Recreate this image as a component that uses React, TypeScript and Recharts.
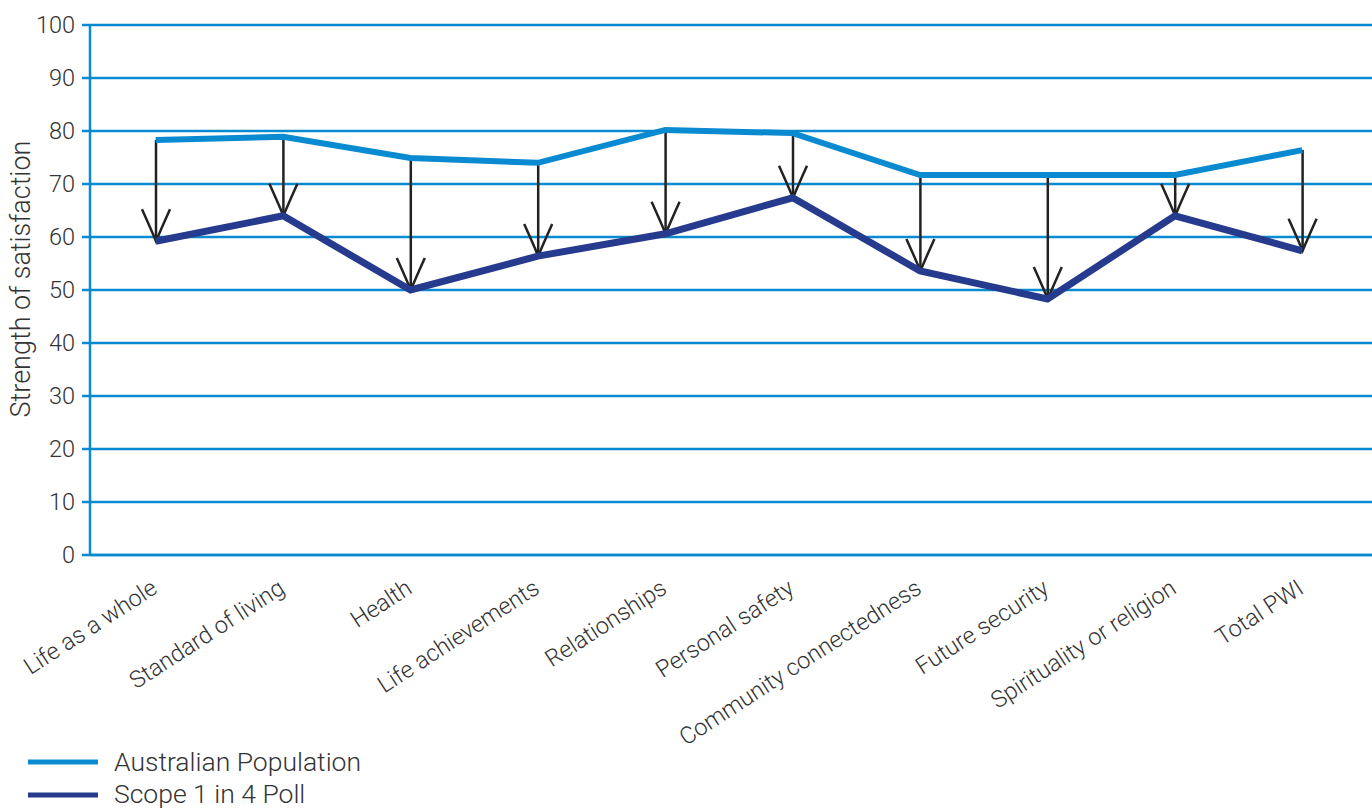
import React from 'react';
import { ComposedChart, Line, Bar, XAxis, YAxis, CartesianGrid } from 'recharts';

const categories = [
  'Life as a whole',
  'Standard of living',
  'Health',
  'Life achievements',
  'Relationships',
  'Personal safety',
  'Community connectedness',
  'Future security',
  'Spirituality or religion',
  'Total PWI',
];
const australianPopulation = [78.3, 78.9, 74.9, 74.0, 80.2, 79.6, 71.7, 71.7, 71.7, 76.4];
const scopePoll = [59.2, 64.0, 50.0, 56.4, 60.6, 67.4, 53.6, 48.3, 64.0, 57.4];
const yTicks = [0, 10, 20, 30, 40, 50, 60, 70, 80, 90, 100];

const AUS = '#0a8ad0';
const SCOPE = '#263b8e';
const GRID = '#0a8ad0';
const TEXT = '#333333';
const FONT = 'Roboto, "Liberation Sans", Arial, sans-serif';

const data = categories.map((c, i) => ({
  name: c,
  aus: australianPopulation[i],
  scope: scopePoll[i],
  range: [scopePoll[i], australianPopulation[i]],
}));

const ArrowShape = (props: any) => {
  const { x, y, width, height } = props;
  if (x == null || y == null) return null;
  const cx = x + width / 2;
  const top = y;
  const bottom = y + height;
  return (
    <g>
      <line x1={cx} y1={top} x2={cx} y2={bottom} stroke="#222" strokeWidth={2.5} />
      <path
        d={`M ${cx - 14} ${bottom - 32} Q ${cx - 5} ${bottom - 12} ${cx} ${bottom} Q ${cx + 5} ${bottom - 12} ${cx + 14} ${bottom - 32}`}
        fill="none"
        stroke="#222"
        strokeWidth={2.5}
      />
    </g>
  );
};

const CategoryTick = (props: any) => {
  const { x, y, payload } = props;
  return (
    <g transform={`translate(${x + 3},${y + 29})`}>
      <text
        x={0}
        y={0}
        transform="rotate(-33)"
        textAnchor="end"
        fill={TEXT}
        fontSize={23.5}
        fontWeight={300}
        fontFamily={FONT}
      >
        {payload.value}
      </text>
    </g>
  );
};

const ValueTick = (props: any) => {
  const { x, y, payload } = props;
  return (
    <text
      x={x - 5}
      y={y + 8}
      textAnchor="end"
      fill={TEXT}
      fontSize={23.5}
      fontWeight={300}
      fontFamily={FONT}
    >
      {payload.value}
    </text>
  );
};

export default function App() {
  return (
    <div style={{ position: 'absolute', left: 0, top: 0, width: 1372, height: 808, background: '#fff', overflow: 'hidden' }}>
      <ComposedChart
        width={1372}
        height={808}
        data={data}
        margin={{ top: 25, right: 0, bottom: 53, left: 0 }}
      >
        <CartesianGrid horizontal vertical={false} stroke={GRID} strokeWidth={2.5} />
        <XAxis
          dataKey="name"
          interval={0}
          padding={{ left: 2, right: 6 }}
          axisLine={{ stroke: GRID, strokeWidth: 2.5 }}
          tickLine={false}
          tick={<CategoryTick />}
          height={200}
        />
        <YAxis
          type="number"
          domain={[0, 100]}
          ticks={yTicks}
          width={90}
          axisLine={{ stroke: GRID, strokeWidth: 2.5 }}
          tickLine={{ stroke: GRID, strokeWidth: 2.5 }}
          tickSize={8}
          tick={<ValueTick />}
          label={{
            content: () => (
              <text
                x={30}
                y={279}
                transform="rotate(-90, 30, 279)"
                textAnchor="middle"
                fill={TEXT}
                fontSize={27}
                fontWeight={300}
                fontFamily={FONT}
              >
                Strength of satisfaction
              </text>
            ),
          }}
        />
        <Line
          dataKey="aus"
          stroke={AUS}
          strokeWidth={6}
          dot={false}
          activeDot={false}
          isAnimationActive={false}
          strokeLinejoin="miter"
        />
        <Line
          dataKey="scope"
          stroke={SCOPE}
          strokeWidth={7}
          dot={false}
          activeDot={false}
          isAnimationActive={false}
          strokeLinejoin="miter"
        />
        <Bar dataKey="range" barSize={30} shape={<ArrowShape />} isAnimationActive={false} />
      </ComposedChart>
      <svg width={420} height={68} style={{ position: 'absolute', left: 0, top: 740 }}>
        <line x1={28} y1={22} x2={98} y2={22} stroke={AUS} strokeWidth={5} />
        <text x={114} y={31} fill={TEXT} fontSize={26.5} fontWeight={300} fontFamily={FONT}>
          Australian Population
        </text>
        <line x1={28} y1={55} x2={98} y2={55} stroke={SCOPE} strokeWidth={5} />
        <text x={114} y={63} fill={TEXT} fontSize={26.5} fontWeight={300} fontFamily={FONT}>
          Scope 1 in 4 Poll
        </text>
      </svg>
    </div>
  );
}
